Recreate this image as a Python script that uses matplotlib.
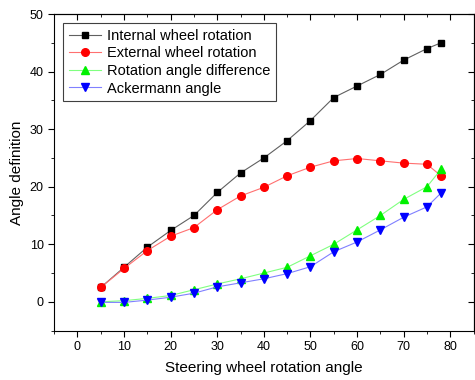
import matplotlib
matplotlib.use("Agg")
import matplotlib.pyplot as plt
from matplotlib.ticker import MultipleLocator

plt.rcParams['font.family'] = ['Liberation Sans', 'DejaVu Sans']

# steering wheel angle
steer = [5, 10, 15, 20, 25, 30, 35, 40, 45, 50, 55, 60, 65, 70, 75, 78]
internal = [2.5, 6.0, 9.5, 12.4, 15.0, 19.0, 22.4, 25.0, 28.0, 31.5, 35.5, 37.5, 39.5, 42.0, 44.0, 45.0]
external = [2.5, 5.8, 8.9, 11.4, 12.9, 16.0, 18.4, 19.9, 21.9, 23.4, 24.5, 24.9, 24.5, 24.1, 23.9, 21.9]
difference = [0.0, 0.2, 0.6, 1.1, 2.1, 3.1, 4.0, 5.0, 6.0, 8.0, 10.0, 12.5, 15.0, 17.8, 20.0, 23.0]
ackermann = [-0.1, -0.1, 0.3, 0.8, 1.5, 2.6, 3.3, 4.0, 4.9, 6.1, 8.7, 10.4, 12.5, 14.7, 16.5, 18.9]

fig = plt.figure(figsize=(4.75, 3.8), dpi=100)
ax = fig.add_axes([0.114, 0.130, 0.883, 0.833])

ax.plot(steer, internal, color='#606060', lw=0.8, marker='s', ms=4.5,
        mfc='black', mec='black', label='Internal wheel rotation')
ax.plot(steer, external, color='#ff7070', lw=0.8, marker='o', ms=5.5,
        mfc='red', mec='red', label='External wheel rotation')
ax.plot(steer, difference, color='#80ff80', lw=0.8, marker='^', ms=5.5,
        mfc='#00f000', mec='#00f000', label='Rotation angle difference')
ax.plot(steer, ackermann, color='#8080ff', lw=0.8, marker='v', ms=5.5,
        mfc='blue', mec='blue', label='Ackermann angle')

ax.set_xlim(-5, 85)
ax.set_ylim(-5, 50)
ax.xaxis.set_major_locator(MultipleLocator(10))
ax.xaxis.set_minor_locator(MultipleLocator(5))
ax.yaxis.set_major_locator(MultipleLocator(10))
ax.yaxis.set_minor_locator(MultipleLocator(5))
ax.tick_params(which='both', direction='out', labelsize=9)
ax.tick_params(which='major', length=4)
ax.tick_params(which='minor', length=2.5)

# mirrored ticks on top / right
top = ax.secondary_xaxis('top')
top.xaxis.set_major_locator(MultipleLocator(10))
top.xaxis.set_minor_locator(MultipleLocator(5))
top.tick_params(which='both', direction='in', labeltop=False)
top.tick_params(which='major', length=4)
top.tick_params(which='minor', length=2.5)
right = ax.secondary_yaxis('right')
right.yaxis.set_major_locator(MultipleLocator(10))
right.yaxis.set_minor_locator(MultipleLocator(5))
right.tick_params(which='both', direction='in', labelright=False)
right.tick_params(which='major', length=4)
right.tick_params(which='minor', length=2.5)

ax.set_xlabel('Steering wheel rotation angle', fontsize=11, labelpad=6)
ax.set_ylabel('Angle definition', fontsize=11, labelpad=4)

leg = ax.legend(loc='upper left', fontsize=10.5, fancybox=False, edgecolor='#404040',
                framealpha=1, borderaxespad=0.6, handlelength=2.2, labelspacing=0.25,
                borderpad=0.4, handletextpad=0.4)
leg.get_frame().set_linewidth(0.8)

fig.savefig('out.png', dpi=100)
